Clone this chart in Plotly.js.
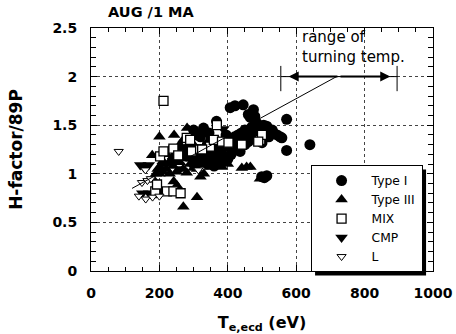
<!DOCTYPE html>
<html>
<head>
<meta charset="utf-8">
<script src="https://cdn.plot.ly/plotly-3.0.1.min.js"></script>
<style>html,body{margin:0;padding:0;background:#fff;}#chart{width:456px;height:334px;}</style>
</head>
<body>
<div id="chart"></div>
<script>
// ---- data ----
const typeI_x = [407,421,445,460,475,479,466,572,572,640,367,329,494,514,533,544,553,558,436,436,499,507,514,
  300,310,320,340,350,360,370,380,390,400,410,420,430,440,450,460,470,480,490,500,520,410,420,390,370,350,330,310,290,280,
  300,320,340,360,380,400,450,460,480,500,520,530,260,250,395,415,445,470,485,505,345,355];
const typeI_y = [1.68,1.70,1.71,1.61,1.66,1.59,1.58,1.56,1.24,1.30,1.54,1.47,1.49,1.49,1.42,1.40,1.38,1.37,1.28,1.23,0.97,0.96,0.98,
  1.45,1.40,1.38,1.30,1.35,1.28,1.25,1.22,1.30,1.28,1.35,1.38,1.40,1.42,1.45,1.40,1.48,1.45,1.42,1.44,1.38,1.20,1.25,1.18,1.15,1.18,1.20,1.15,1.22,1.18,
  1.10,1.12,1.10,1.08,1.12,1.15,1.30,1.33,1.36,1.32,1.45,1.45,1.25,1.15,1.40,1.32,1.35,1.38,1.52,1.50,1.42,1.22];
const typeIII_x = [200,243,281,179,320,310,270,242,251,183,349,383,441,455,466,494,202,231,280,300,
  190,210,220,230,240,250,260,270,290,300,310,330,340,360,260,270,280,290,300,220,
  230,240,210,200,250,320,400,350,370,195,215,235,265,285];
const typeIII_y = [1.38,1.40,1.47,1.19,0.97,0.76,0.66,0.92,0.88,0.94,1.07,1.07,1.06,1.07,1.07,0.95,1.07,1.11,1.01,1.06,
  1.00,1.02,1.05,1.00,1.08,1.02,1.12,1.05,1.10,1.20,1.05,1.00,1.15,1.20,1.30,1.35,1.28,1.32,1.30,1.20,
  1.25,1.18,1.13,1.00,1.22,1.25,1.10,1.12,1.15,1.05,1.10,1.15,1.20,1.25];
const mix_x = [212,202,212,241,255,280,290,295,319,348,368,359,383,402,441,495,500,489,222,241,262,188,325,193];
const mix_y = [1.75,1.18,1.23,1.26,1.19,1.37,1.35,1.23,1.25,1.28,1.50,1.35,1.33,1.32,1.30,1.35,1.40,1.33,0.82,0.82,0.80,0.82,1.25,0.89];
const cmp_x = [144,154,169,387,377,150,170,190,208,300,420,260];
const cmp_y = [1.09,1.07,1.09,1.46,1.35,0.80,0.80,0.80,0.82,1.15,1.33,1.05];
const L_x = [81,140,160,180,200,159,149,165,314,175];
const L_y = [1.23,0.77,0.74,0.76,0.77,1.04,0.91,0.93,1.04,0.95];
const fit_x = [120, 718];
const fit_y = [0.85, 2.0];
const turnLow = 555, turnHigh = 895, turnMid = 725, turnY = 2.0;
const seriesNames = ['Type I', 'Type III', 'MIX', 'CMP', 'L'];

const traces = [
  {x: typeI_x, y: typeI_y, name: seriesNames[0], legendrank: 1, type: 'scatter', mode: 'markers',
   marker: {symbol: 'circle', size: 11, color: '#000', line: {width: 0}}},
  {x: typeIII_x, y: typeIII_y, name: seriesNames[1], legendrank: 2, type: 'scatter', mode: 'markers',
   marker: {symbol: 'triangle-up', size: 11, color: '#000', line: {width: 0}}},
  {x: cmp_x, y: cmp_y, name: seriesNames[3], legendrank: 4, type: 'scatter', mode: 'markers',
   marker: {symbol: 'triangle-down', size: 11, color: '#000', line: {width: 0}}},
  {x: mix_x, y: mix_y, name: seriesNames[2], legendrank: 3, type: 'scatter', mode: 'markers',
   marker: {symbol: 'square', size: 9, color: '#fff', line: {width: 1.3, color: '#000'}}},
  {x: L_x, y: L_y, name: seriesNames[4], legendrank: 5, type: 'scatter', mode: 'markers',
   marker: {symbol: 'triangle-down', size: 8, color: '#fff', line: {width: 1, color: '#000'}}},
  {x: fit_x, y: fit_y, showlegend: false, type: 'scatter', mode: 'lines', hoverinfo: 'skip',
   line: {color: '#000', width: 1}}
];

const tickFont = {family: 'DejaVu Sans', size: 14, color: '#000', weight: 'bold'};
const L = 91, R = 23, T = 28, B = 63;
const W = 456, H = 334;

const layout = {
  width: W, height: H,
  margin: {l: L, r: R, t: T, b: B, pad: 0},
  paper_bgcolor: '#fff', plot_bgcolor: '#fff',
  font: {family: 'DejaVu Sans', color: '#000'},
  title: {text: '<b>AUG /1 MA</b>', x: 0.05, xref: 'paper', xanchor: 'left', y: 0.963, yref: 'container', yanchor: 'middle',
          font: {family: 'DejaVu Sans', size: 14.5, color: '#000'}},
  xaxis: {range: [0, 1000], dtick: 200, tick0: 0, ticks: 'inside', ticklen: 6, tickcolor: '#000',
          showline: true, linecolor: '#000', linewidth: 1, mirror: 'allticks',
          showgrid: true, gridcolor: '#444', griddash: 'dot', gridwidth: 1, zeroline: false,
          tickfont: tickFont, ticklabelstandoff: 9,
          minor: {dtick: 50, ticks: 'inside', ticklen: 4, tickcolor: '#000', showgrid: false},
          title: {text: '<b>T<sub>e,ecd</sub> (eV)</b>', font: {family: 'DejaVu Sans', size: 16, color: '#000'}, standoff: 17}},
  yaxis: {range: [0, 2.5], dtick: 0.5, tick0: 0, ticks: 'inside', ticklen: 6, tickcolor: '#000',
          showline: true, linecolor: '#000', linewidth: 1, mirror: 'allticks',
          showgrid: true, gridcolor: '#444', griddash: 'dot', gridwidth: 1, zeroline: false,
          tickfont: tickFont, ticklabelstandoff: 10,
          minor: {dtick: 0.1, ticks: 'inside', ticklen: 5, tickcolor: '#000', showgrid: false},
          title: {text: '<b>H-factor/89P</b>', font: {family: 'DejaVu Sans', size: 17, color: '#000'}, standoff: 25}},
  legend: {x: 0.642, y: 0.436, xanchor: 'left', yanchor: 'top', bgcolor: '#fff', bordercolor: '#000', borderwidth: 1,
           font: {family: 'DejaVu Sans', size: 12.3, color: '#000'}, itemwidth: 50, traceorder: 'normal', tracegroupgap: 0},
  shapes: [
    {type: 'line', xref: 'x', yref: 'y', x0: turnLow, x1: turnHigh, y0: turnY, y1: turnY, line: {color: '#000', width: 1}},
    {type: 'line', xref: 'x', yref: 'y', x0: turnLow, x1: turnLow, y0: turnY - 0.15, y1: turnY + 0.11, line: {color: '#000', width: 1}},
    {type: 'line', xref: 'x', yref: 'y', x0: turnHigh, x1: turnHigh, y0: turnY - 0.15, y1: turnY + 0.11, line: {color: '#000', width: 1}}
  ],
  annotations: [
    {x: 578, y: turnY, ax: turnMid, ay: turnY, axref: 'x', ayref: 'y', xref: 'x', yref: 'y', text: '',
     showarrow: true, arrowhead: 2, arrowsize: 1, arrowwidth: 2, arrowcolor: '#000'},
    {x: 875, y: turnY, ax: turnMid, ay: turnY, axref: 'x', ayref: 'y', xref: 'x', yref: 'y', text: '',
     showarrow: true, arrowhead: 2, arrowsize: 1, arrowwidth: 2, arrowcolor: '#000'},
    {x: 612, y: 1.007, xref: 'x', yref: 'paper', xanchor: 'left', yanchor: 'top', align: 'left', showarrow: false,
     text: 'range of<br>turning temp.', font: {family: 'DejaVu Sans', size: 15, color: '#000'}, bgcolor: 'rgba(0,0,0,0)'}
  ],
  showlegend: true
};

const gd = document.getElementById('chart');
Plotly.newPlot(gd, traces, layout, {displayModeBar: false, staticPlot: true}).then(function () {
  const bg = gd.querySelector('.legend .bg');
  if (!bg) return;
  const r = bg.getBoundingClientRect();
  const c = gd.getBoundingClientRect();
  const pw = W - L - R, ph = H - T - B;
  const off = 4;
  const px = function (v) { return (v - c.left - L) / pw; };
  const py = function (v) { return 1 - (v - c.top - T) / ph; };
  const sh = layout.shapes.slice();
  sh.push({type: 'rect', xref: 'paper', yref: 'paper', layer: 'above',
           x0: px(r.left + off), x1: px(r.right + off), y0: py(r.bottom + off), y1: py(r.top + off),
           fillcolor: '#000', line: {width: 0}});
  return Plotly.relayout(gd, {shapes: sh});
});
</script>
</body>
</html>
